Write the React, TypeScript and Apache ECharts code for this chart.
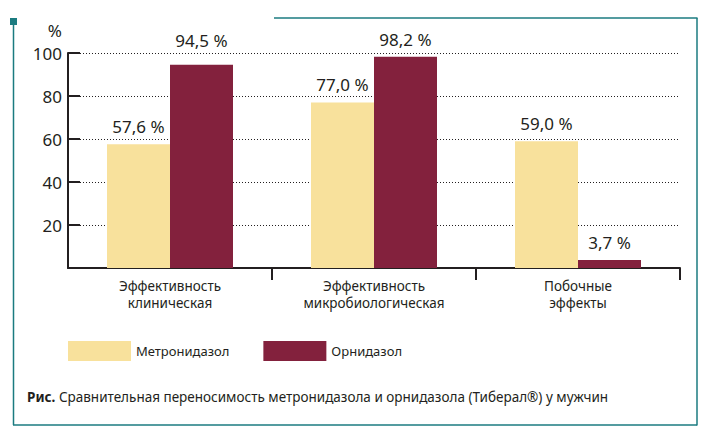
import React, { useEffect, useRef } from "react";
import * as echarts from "echarts";

const categories = ["Эффективность\nклиническая", "Эффективность\nмикробиологическая", "Побочные\nэффекты"];
const metronidazole = [57.6, 77.0, 59.0];
const ornidazole = [94.5, 98.2, 3.7];
const seriesNames = ["Метронидазол", "Орнидазол"];
const yTicks = [0, 20, 40, 60, 80, 100];
const caption = "Сравнительная переносимость метронидазола и орнидазола (Тиберал®) у мужчин";

const FONT = "'Noto Sans', sans-serif";
const DARK = "#231f20";
const TEAL = "#1b7b80";
const YELLOW = "#f8e19c";
const MAROON = "#83213d";

const fmt = (v: number) => v.toFixed(1).replace(".", ",") + " %";

export default function App() {
  const ref = useRef<HTMLDivElement>(null);
  useEffect(() => {
    if (!ref.current) return;
    const chart = echarts.init(ref.current, null, { renderer: "svg" });
    const labelStyle = {
      show: true,
      position: "top" as const,
      distance: 9,
      fontSize: 17,
      color: DARK,
      fontFamily: FONT,
      formatter: (p: any) => fmt(p.value),
    };
    const ornData = ornidazole.map((v, i) =>
      i === 0 ? { value: v, label: { distance: 16 } } : v
    );
    chart.setOption({
      animation: false,
      backgroundColor: "#ffffff",
      textStyle: { fontFamily: FONT },
      grid: { left: 68, right: 28, top: 53, bottom: 167, containLabel: false },
      legend: {
        data: seriesNames,
        left: 68,
        top: 341,
        padding: 0,
        itemWidth: 63,
        itemHeight: 20,
        itemGap: 34,
        icon: "rect",
        textStyle: { fontSize: 13, color: DARK, fontFamily: FONT },
        selectedMode: false,
      },
      xAxis: {
        type: "category",
        data: categories,
        boundaryGap: true,
        axisLine: { show: true, lineStyle: { color: DARK, width: 2 } },
        axisTick: {
          show: true,
          length: 12,
          interval: (i: number) => i === 1 || i === 2,
          lineStyle: { color: DARK, width: 2 },
        },
        axisLabel: {
          fontSize: 13.5,
          color: DARK,
          fontFamily: FONT,
          lineHeight: 17,
          margin: 9,
          interval: 0,
        },
      },
      yAxis: {
        type: "value",
        min: yTicks[0],
        max: yTicks[yTicks.length - 1],
        interval: 20,
        name: "%",
        nameLocation: "end",
        nameGap: 14,
        nameTextStyle: { fontSize: 17, color: DARK, fontFamily: FONT, align: "right", padding: [0, 6, 0, 0] },
        axisLine: { show: true, lineStyle: { color: DARK, width: 2 } },
        axisTick: { show: true, inside: true, length: 12, lineStyle: { color: DARK, width: 2 } },
        axisLabel: {
          fontSize: 17,
          color: DARK,
          fontFamily: FONT,
          margin: 6,
          formatter: (v: number) => (v === 0 ? "" : String(v)),
        },
        splitLine: { show: true, lineStyle: { color: DARK, type: [1, 2], width: 1 } },
      },
      series: [
        {
          name: seriesNames[0],
          type: "bar",
          data: metronidazole,
          barWidth: 63,
          barGap: "0%",
          itemStyle: { color: YELLOW },
          label: labelStyle,
        },
        {
          name: seriesNames[1],
          type: "bar",
          data: ornData,
          barWidth: 63,
          barGap: "0%",
          itemStyle: { color: MAROON },
          label: labelStyle,
        },
      ],
      graphic: [
        { type: "rect", shape: { x: 10, y: 18, width: 7, height: 7 }, style: { fill: TEAL } },
        { type: "line", shape: { x1: 13.5, y1: 24, x2: 13.5, y2: 425 }, style: { stroke: TEAL, lineWidth: 1.5 } },
        { type: "line", shape: { x1: 13, y1: 425, x2: 697, y2: 425 }, style: { stroke: TEAL, lineWidth: 1.5 } },
        { type: "line", shape: { x1: 697, y1: 18, x2: 697, y2: 425.5 }, style: { stroke: TEAL, lineWidth: 1.5 } },
        { type: "line", shape: { x1: 274, y1: 18, x2: 697.5, y2: 18 }, style: { stroke: TEAL, lineWidth: 1.5 } },
        {
          type: "text",
          x: 27,
          y: 397,
          style: {
            text: "{b|Рис.} " + caption,
            verticalAlign: "middle",
            fontSize: 13.5,
            fill: DARK,
            fontFamily: FONT,
            rich: { b: { fontWeight: "bold", fontSize: 13.5, fontFamily: FONT, fill: DARK } },
          },
        },
      ],
    });
    return () => chart.dispose();
  }, []);
  return (
    <div
      ref={ref}
      style={{ position: "fixed", left: 0, top: 0, width: 708, height: 435, background: "#fff" }}
    />
  );
}
